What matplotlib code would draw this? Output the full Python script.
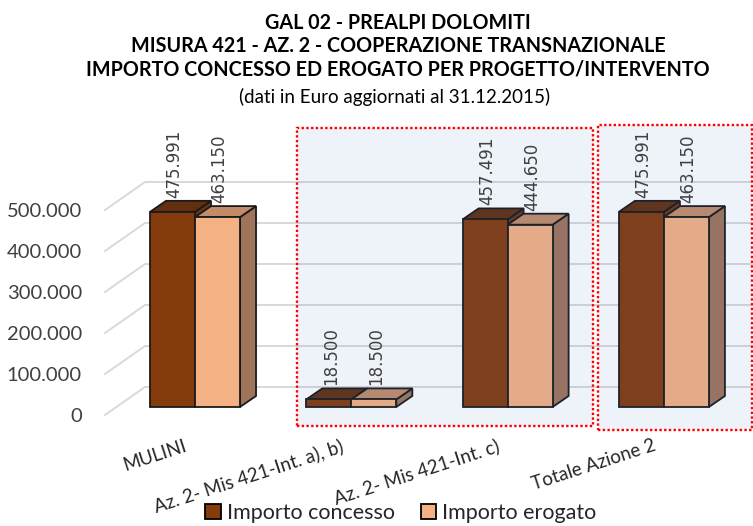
import matplotlib
matplotlib.use('Agg')
import matplotlib.pyplot as plt
from matplotlib.patches import Polygon, Rectangle, Patch

# data
categories = ['MULINI', 'Az. 2- Mis 421-Int. a), b)', 'Az. 2- Mis 421-Int. c)', 'Totale Azione 2']
concesso = [475991, 18500, 457491, 475991]
erogato = [463150, 18500, 444650, 463150]
series_names = ['Importo concesso', 'Importo erogato']
yticks = [0, 100000, 200000, 300000, 400000, 500000]
title_lines = ['GAL 02 - PREALPI DOLOMITI',
               'MISURA 421 - AZ. 2 - COOPERAZIONE TRANSNAZIONALE',
               'IMPORTO CONCESSO ED EROGATO PER PROGETTO/INTERVENTO']
subtitle = '(dati in Euro aggiornati al 31.12.2015)'

# face colours: front, top, side
col_conc = ('#843C0C', '#62300F', '#6B3512')
col_erog = ('#F4B183', '#C28C69', '#A0745A')

plt.rcParams['font.family'] = ['Lato', 'DejaVu Sans']

W, H = 753, 526
fig = plt.figure(figsize=(W / 100, H / 100), dpi=100)
L, T, R, B = 100, 115, 753, 440  # axes box in pixels
ax = fig.add_axes([L / W, 1 - B / H, (R - L) / W, (B - T) / H])
xmin, xmax = -0.608, 3.570
ymin, ymax = -61000, 731700
ax.set_xlim(xmin, xmax)
ax.set_ylim(ymin, ymax)
for s in ax.spines.values():
    s.set_visible(False)
ax.set_xticks([])
ax.set_yticks(yticks)
ax.set_yticklabels([f"{v:,}".replace(',', '.') for v in yticks])
ax.tick_params(axis='y', length=0, pad=13, labelsize=14.5, labelcolor='#404040')

px_x = (R - L) / (xmax - xmin)
px_y = (B - T) / (ymax - ymin)


def dx(px):
    return px / px_x


def dv(px):
    return px / px_y


# back wall gridlines with the floor diagonals
wall_dx, wall_dv = dx(40), dv(28)
x_front = xmin + dx(5)
for v in yticks:
    ax.plot([x_front, x_front + wall_dx, xmax], [v, v + wall_dv, v + wall_dv],
            color='#D9D9D9', lw=1.4, zorder=1, clip_on=False)

# pseudo 3D bars
bar_w = dx(45)
bdx, bdv = dx(16), dv(11)
base = dv(8)
z = 2
for i in range(len(categories)):
    for k, (vals, cols) in enumerate([(concesso, col_conc), (erogato, col_erog)]):
        xl = i - bar_w + k * bar_w
        xr = xl + bar_w
        top = base + vals[i]
        side = [(xr, base), (xr + bdx, base + bdv), (xr + bdx, top + bdv), (xr, top)]
        lid = [(xl, top), (xl + bdx, top + bdv), (xr + bdx, top + bdv), (xr, top)]
        ax.add_patch(Polygon(side, closed=True, facecolor=cols[2], edgecolor='#1a1a1a',
                             lw=1.3, zorder=z))
        ax.add_patch(Polygon(lid, closed=True, facecolor=cols[1], edgecolor='#1a1a1a',
                             lw=1.3, zorder=z + 0.1))
        ax.bar(xl, vals[i], bottom=base, width=bar_w, align='edge', color=cols[0],
               edgecolor='#1a1a1a', lw=1.3, zorder=z + 0.2)
        ax.text(xl + bar_w / 2 + dx(2), top + bdv + dv(3), f"{vals[i]:,}".replace(',', '.'),
                rotation=90, ha='center', va='bottom', fontsize=12,
                family='DejaVu Sans', color='#404040', zorder=20)
        z += 1

# highlight boxes (light blue, red dotted border)
boxes = [(1 - dx(54), 2 + dx(85), -dv(11), dv(287)),
         (3 - dx(66), 3 + dx(88), -dv(15), dv(290))]
for x0, x1, y0, y1 in boxes:
    ax.add_patch(Rectangle((x0, y0), x1 - x0, y1 - y0, facecolor=(0.267, 0.447, 0.769, 0.09),
                           edgecolor='#FF0000', lw=1.7, linestyle=(0, (1, 1)),
                           zorder=15, clip_on=False))

# category labels
for i, c in enumerate(categories):
    ax.text(i - dx(11), -dv(22), c, rotation=18, ha='right', va='top',
            rotation_mode='anchor', fontsize=13.5, color='#262626')

# titles
for line, ypx in zip(title_lines, [23, 46, 70]):
    fig.text(398 / W, 1 - ypx / H, line, ha='center', va='center',
             fontsize=14.2, fontweight='bold', color='black')
fig.text(395 / W, 1 - 97 / H, subtitle, ha='center', va='center',
         fontsize=13.5, color='black')

handles = [Patch(facecolor=col_conc[0], edgecolor='black', lw=1.3),
           Patch(facecolor=col_erog[0], edgecolor='black', lw=1.3)]
fig.legend(handles, series_names, loc='center', bbox_to_anchor=(401 / W, 1 - 513 / H),
           ncol=2, frameon=False, fontsize=15.5, handlelength=0.7, handleheight=0.7,
           handletextpad=0.3, columnspacing=1.2, labelcolor='#262626')

fig.savefig('out.png', dpi=100)
